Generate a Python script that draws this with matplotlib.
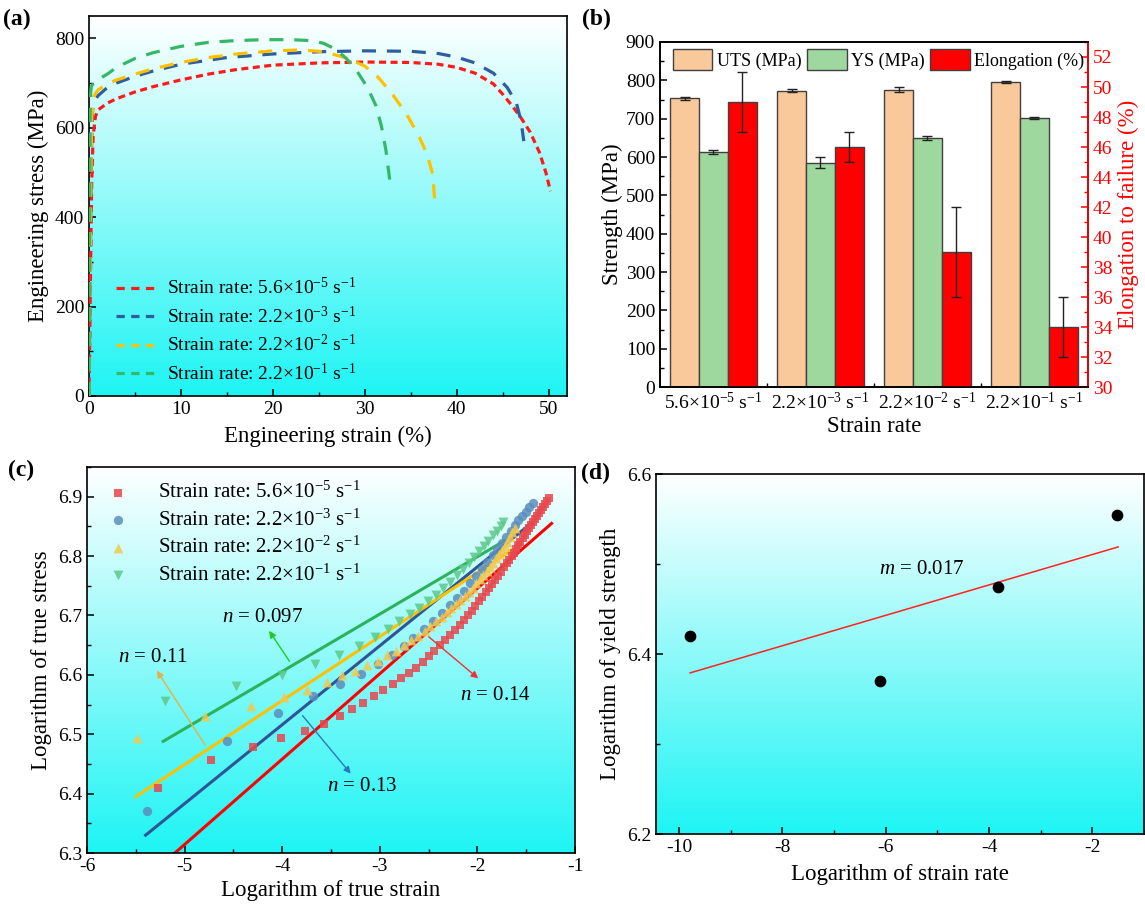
import numpy as np
import matplotlib
matplotlib.use("Agg")
import matplotlib.pyplot as plt
from matplotlib.colors import LinearSegmentedColormap
from matplotlib.lines import Line2D
from matplotlib.ticker import MultipleLocator, FormatStrFormatter

plt.rcParams['font.family'] = ['Liberation Serif', 'DejaVu Serif']
plt.rcParams['mathtext.fontset'] = 'custom'
plt.rcParams['mathtext.rm'] = 'Liberation Serif'
plt.rcParams['mathtext.it'] = 'Liberation Serif:italic'
plt.rcParams['axes.linewidth'] = 1.2
plt.rcParams['axes.unicode_minus'] = False

# ---- labels
rate_labels = [r'5.6$\times$10$^{-5}$ s$^{-1}$', r'2.2$\times$10$^{-3}$ s$^{-1}$',
               r'2.2$\times$10$^{-2}$ s$^{-1}$', r'2.2$\times$10$^{-1}$ s$^{-1}$']

# ---- (a) engineering stress-strain curves
a_red_x = [0, 0.1, 0.2, 0.3, 0.45, 0.7, 1, 2, 3, 5, 7, 10, 13, 16, 20, 25, 30, 35, 38, 40, 42, 44, 45, 46, 47, 48, 49, 49.7, 50.2]
a_red_y = [0, 150, 330, 480, 580, 625, 640, 655, 665, 680, 692, 707, 720, 730, 740, 745, 747, 746, 742, 735, 722, 698, 675, 650, 622, 590, 545, 500, 458]
a_blue_x = [0, 0.1, 0.2, 0.3, 0.4, 0.6, 1, 2, 3, 5, 7, 10, 15, 20, 25, 30, 35, 38, 40, 42, 44, 45.5, 46.5, 47.0, 47.3]
a_blue_y = [0, 200, 420, 580, 640, 660, 672, 690, 700, 715, 727, 742, 757, 765, 770, 772, 771, 766, 758, 745, 722, 690, 655, 615, 570]
a_yel_x = [0, 0.1, 0.2, 0.3, 0.5, 1, 2, 3, 5, 7, 10, 13, 16, 20, 23, 25, 27, 28.5, 30, 31.5, 33, 34.5, 35.8, 36.8, 37.4, 37.6]
a_yel_y = [0, 220, 450, 620, 670, 685, 698, 707, 720, 732, 746, 757, 765, 772, 774, 771, 762, 752, 738, 712, 675, 632, 585, 540, 495, 440]
a_grn_x = [0, 0.05, 0.1, 0.15, 0.25, 0.5, 1, 2, 3, 5, 7, 10, 13, 16, 19, 22, 24, 25.5, 26.8, 28, 29.2, 30.3, 31.2, 31.8, 32.3, 32.8]
a_grn_y = [0, 250, 500, 670, 692, 700, 708, 720, 735, 755, 768, 782, 791, 795, 797, 797, 795, 789, 776, 755, 725, 690, 650, 605, 550, 470]

# ---- (b) strength / elongation
uts = [753, 773, 776, 795]
uts_err = [4, 4, 6, 2]
ys = [614, 585, 650, 702]
ys_err = [5, 14, 5, 3]
elong = [49, 46, 39, 34]
elong_err = [2, 1, 3, 2]

# ---- (c) log true stress vs log true strain
c_red_x = [-5.27, -4.73, -4.30, -4.01, -3.77, -3.57, -3.41, -3.28, -3.17, -3.06, -2.97, -2.87, -2.78, -2.70,
           -2.63, -2.56, -2.50, -2.44, -2.38, -2.33, -2.28, -2.23, -2.18, -2.14, -2.10, -2.06, -2.02, -1.98,
           -1.95, -1.91, -1.88, -1.85, -1.82, -1.79, -1.76, -1.73, -1.70, -1.68, -1.65, -1.63, -1.60, -1.58,
           -1.56, -1.53, -1.51, -1.49, -1.47, -1.45, -1.43, -1.41, -1.39, -1.37, -1.35, -1.33, -1.31, -1.29, -1.27]
c_red_y = [6.410, 6.457, 6.478, 6.493, 6.506, 6.518, 6.531, 6.542, 6.552, 6.565, 6.574, 6.584, 6.594, 6.603,
           6.612, 6.622, 6.632, 6.641, 6.650, 6.658, 6.667, 6.676, 6.684, 6.692, 6.700, 6.708, 6.716, 6.724,
           6.731, 6.739, 6.746, 6.753, 6.760, 6.767, 6.774, 6.781, 6.788, 6.794, 6.800, 6.806, 6.812, 6.818,
           6.824, 6.830, 6.836, 6.842, 6.847, 6.852, 6.857, 6.862, 6.867, 6.872, 6.877, 6.882, 6.887, 6.892, 6.897]
c_blue_x = [-5.39, -4.57, -4.04, -3.685, -3.41, -3.195, -3.02, -2.876, -2.753, -2.656, -2.551, -2.453, -2.364,
            -2.283, -2.207, -2.137, -2.071, -2.010, -1.952, -1.897, -1.845, -1.796, -1.749, -1.704, -1.661,
            -1.619, -1.580, -1.542, -1.505, -1.470, -1.435]
c_blue_y = [6.370, 6.488, 6.536, 6.564, 6.584, 6.601, 6.619, 6.633, 6.648, 6.662, 6.677, 6.691, 6.704,
            6.717, 6.730, 6.742, 6.755, 6.767, 6.779, 6.790, 6.801, 6.812, 6.822, 6.832, 6.842,
            6.852, 6.860, 6.868, 6.875, 6.882, 6.889]
c_yel_x = [-5.484, -4.79, -4.32, -3.985, -3.743, -3.54, -3.39, -3.252, -3.130, -3.022, -2.924, -2.835, -2.754,
           -2.678, -2.608, -2.542, -2.481, -2.422, -2.368, -2.316, -2.266, -2.219, -2.174, -2.131, -2.090,
           -2.050, -2.012, -1.975, -1.940, -1.906, -1.873, -1.841, -1.810, -1.780, -1.750, -1.722, -1.695,
           -1.668, -1.641, -1.616]
c_yel_y = [6.493, 6.531, 6.548, 6.562, 6.574, 6.588, 6.600, 6.607, 6.616, 6.624, 6.633, 6.641, 6.650,
           6.658, 6.666, 6.674, 6.682, 6.690, 6.697, 6.705, 6.712, 6.719, 6.726, 6.733, 6.740,
           6.747, 6.754, 6.761, 6.768, 6.775, 6.782, 6.789, 6.796, 6.803, 6.810, 6.817, 6.824,
           6.832, 6.840, 6.848]
c_grn_x = [-5.20, -4.475, -4.0, -3.66, -3.415, -3.215, -3.05, -2.92, -2.80, -2.695, -2.596, -2.506, -2.424,
           -2.348, -2.277, -2.211, -2.149, -2.091, -2.036, -1.983, -1.934, -1.887, -1.841, -1.798, -1.757, -1.734]
c_grn_y = [6.556, 6.581, 6.600, 6.619, 6.633, 6.648, 6.663, 6.678, 6.691, 6.702, 6.713, 6.724, 6.735,
           6.746, 6.757, 6.768, 6.778, 6.788, 6.798, 6.808, 6.817, 6.826, 6.835, 6.843, 6.851, 6.857]
# fitted lines (end points)
fit_red = ([-5.10, -1.24], [6.30, 6.855])
fit_blue = ([-5.40, -1.45], [6.33, 6.855])
fit_yel = ([-5.50, -1.65], [6.395, 6.81])
fit_grn = ([-5.22, -1.72], [6.488, 6.826])

# ---- (d) log yield strength vs log strain rate
d_x = [-9.79, -6.12, -3.82, -1.52]
d_y = [6.420, 6.370, 6.475, 6.554]
d_fit_x = [-9.79, -1.50]
d_fit_y = [6.379, 6.519]

bg_cmap = LinearSegmentedColormap.from_list('bg', ['#ffffff', '#1ef4f4'])


def add_gradient(ax):
    # white at the top, cyan at the bottom
    grad = np.linspace(0, 1, 256).reshape(-1, 1)
    ax.imshow(grad, extent=[0, 1, 0, 1], origin='upper', transform=ax.transAxes,
              aspect='auto', cmap=bg_cmap, zorder=0, interpolation='bicubic')


def style_ticks(ax, size=14):
    ax.tick_params(which='both', direction='in', labelsize=size, top=False, right=False)
    ax.tick_params(which='major', length=5, width=1.1)
    ax.tick_params(which='minor', length=3, width=1.0)


fig = plt.figure(figsize=(11.45, 9.13), dpi=100)

# ================= (a)
ax1 = fig.add_axes([0.0777, 0.5663, 0.4175, 0.4162])
add_gradient(ax1)
a_colors = ['#ff1a1a', '#2f5d9e', '#ffc000', '#35b866']
ax1.plot(a_red_x, a_red_y, color=a_colors[0], lw=2.3, dashes=(2.2, 1.4), zorder=3)
ax1.plot(a_blue_x, a_blue_y, color=a_colors[1], lw=2.3, dashes=(4.4, 3.4), zorder=3)
ax1.plot(a_yel_x, a_yel_y, color=a_colors[2], lw=2.3, dashes=(4.4, 3.4), zorder=3)
ax1.plot(a_grn_x, a_grn_y, color=a_colors[3], lw=2.3, dashes=(4.4, 3.4), zorder=3)
ax1.set_xlim(0, 52)
ax1.set_ylim(0, 850)
ax1.xaxis.set_major_locator(MultipleLocator(10))
ax1.xaxis.set_minor_locator(MultipleLocator(5))
ax1.yaxis.set_major_locator(MultipleLocator(200))
ax1.yaxis.set_minor_locator(MultipleLocator(100))
style_ticks(ax1)
ax1.set_xlabel('Engineering strain (%)', fontsize=16.5, labelpad=6)
ax1.set_ylabel('Engineering stress (MPa)', fontsize=16.5, labelpad=4)
handles = [Line2D([0], [0], color=c, lw=2.3, dashes=(2.6, 2.0)) for c in a_colors]
ax1.legend(handles, ['Strain rate: ' + l for l in rate_labels], loc='lower left',
           bbox_to_anchor=(0.02, -0.015), frameon=False, fontsize=14, handlelength=2.0,
           labelspacing=0.38, handletextpad=0.6)

# ================= (b)
ax2 = fig.add_axes([0.5764, 0.5761, 0.3738, 0.3779])
xg = np.arange(len(uts))
w = 0.27
ekw = dict(ecolor='#222222', elinewidth=1.0, capsize=3.5, capthick=1.0)
ax2.bar(xg - w, uts, w, yerr=uts_err, color='#f9c89b', edgecolor='#404040', lw=1.0,
        error_kw=ekw, label='UTS (MPa)', zorder=2)
ax2.bar(xg, ys, w, yerr=ys_err, color='#9fd89f', edgecolor='#404040', lw=1.0,
        error_kw=ekw, label='YS (MPa)', zorder=2)
ax2.set_xlim(-0.5, 3.5)
ax2.set_ylim(0, 900)
ax2.yaxis.set_major_locator(MultipleLocator(100))
ax2.yaxis.set_minor_locator(MultipleLocator(50))
ax2.set_xticks(xg)
ax2.set_xticks([0.5, 1.5, 2.5], minor=True)
ax2.set_xticklabels(rate_labels)
style_ticks(ax2)
ax2.set_ylabel('Strength (MPa)', fontsize=16.5, labelpad=2)
ax2.set_xlabel('Strain rate', fontsize=16.5, labelpad=2)
ax2b = ax2.twinx()
ax2b.bar(xg + w, elong, w, yerr=elong_err, color='#ff0000', edgecolor='#404040', lw=1.0,
         error_kw=ekw, label='Elongation (%)', zorder=2)
ax2b.set_ylim(30, 53)
ax2b.yaxis.set_major_locator(MultipleLocator(2))
ax2b.yaxis.set_minor_locator(MultipleLocator(1))
ax2b.tick_params(which='both', direction='in', labelsize=14, colors='red')
ax2b.tick_params(which='major', length=5, width=1.1)
ax2b.tick_params(which='minor', length=3, width=1.0)
ax2b.spines['right'].set_color('red')
ax2b.set_ylabel('Elongation to failure (%)', fontsize=16.5, color='red', labelpad=4)
h1, l1 = ax2.get_legend_handles_labels()
h2, l2 = ax2b.get_legend_handles_labels()
ax2b.legend(h1 + h2, l1 + l2, loc='upper left', ncol=3, frameon=False, fontsize=13,
            handlelength=2.2, handleheight=1.4, columnspacing=0.3, handletextpad=0.25,
            bbox_to_anchor=(0.0, 1.015), borderaxespad=0.3)

# ================= (c)
ax3 = fig.add_axes([0.076, 0.0657, 0.4262, 0.4228])
add_gradient(ax3)
ax3.plot(*fit_red, color='#ff0000', lw=2.2, zorder=2)
ax3.plot(*fit_blue, color='#2f5597', lw=2.2, zorder=2)
ax3.plot(*fit_yel, color='#ffc000', lw=2.2, zorder=2)
ax3.plot(*fit_grn, color='#2db25c', lw=2.2, zorder=2)
ax3.scatter(c_red_x, c_red_y, marker='s', s=40, color='#e8474d', alpha=0.85, lw=0, zorder=3,
            label='Strain rate: ' + rate_labels[0])
ax3.scatter(c_blue_x, c_blue_y, marker='o', s=45, color='#5b8dbd', alpha=0.85, lw=0, zorder=3,
            label='Strain rate: ' + rate_labels[1])
ax3.scatter(c_yel_x, c_yel_y, marker='^', s=50, color='#f4c84c', alpha=0.85, lw=0, zorder=3,
            label='Strain rate: ' + rate_labels[2])
ax3.scatter(c_grn_x, c_grn_y, marker='v', s=50, color='#5cc98a', alpha=0.85, lw=0, zorder=3,
            label='Strain rate: ' + rate_labels[3])
ax3.set_xlim(-6, -1)
ax3.set_ylim(6.3, 6.95)
ax3.xaxis.set_major_locator(MultipleLocator(1))
ax3.xaxis.set_minor_locator(MultipleLocator(0.5))
ax3.yaxis.set_major_locator(MultipleLocator(0.1))
ax3.yaxis.set_minor_locator(MultipleLocator(0.05))
ax3.yaxis.set_major_formatter(FormatStrFormatter('%.1f'))
style_ticks(ax3)
ax3.set_xlabel('Logarithm of true strain', fontsize=16.5, labelpad=4)
ax3.set_ylabel('Logarithm of true stress', fontsize=16.5, labelpad=4)
ax3.legend(loc='upper left', bbox_to_anchor=(0.0, 1.01), frameon=False, fontsize=15,
           handlelength=1.2, handletextpad=1.3, labelspacing=0.3, scatterpoints=1)
ann = dict(fontsize=15)
ax3.annotate('', xy=(-4.15, 6.678), xytext=(-3.91, 6.619),
             arrowprops=dict(arrowstyle='-|>', color='#22cc22', lw=1.0, mutation_scale=10))
ax3.text(-4.2, 6.697, r'$n$ = 0.097', ha='center', va='center', **ann)
ax3.annotate('', xy=(-5.30, 6.611), xytext=(-4.775, 6.478),
             arrowprops=dict(arrowstyle='-|>', color='#e8b040', lw=1.0, mutation_scale=10))
ax3.text(-5.32, 6.63, r'$n$ = 0.11', ha='center', va='center', **ann)
ax3.annotate('', xy=(-3.28, 6.43), xytext=(-3.81, 6.535),
             arrowprops=dict(arrowstyle='-|>', color='#2a7ab8', lw=1.0, mutation_scale=10))
ax3.text(-3.18, 6.412, r'$n$ = 0.13', ha='center', va='center', **ann)
ax3.annotate('', xy=(-1.97, 6.591), xytext=(-2.52, 6.667),
             arrowprops=dict(arrowstyle='-|>', color='#ee3333', lw=1.0, mutation_scale=10))
ax3.text(-1.82, 6.566, r'$n$ = 0.14', ha='center', va='center', **ann)

# ================= (d)
ax4 = fig.add_axes([0.5729, 0.0865, 0.4262, 0.3943])
add_gradient(ax4)
ax4.plot(d_fit_x, d_fit_y, color='#ff2020', lw=1.1, zorder=2)
ax4.scatter(d_x, d_y, s=55, color='black', zorder=3)
ax4.set_xlim(-10.45, -1.0)
ax4.set_ylim(6.2, 6.6)
ax4.xaxis.set_major_locator(MultipleLocator(2))
ax4.xaxis.set_minor_locator(MultipleLocator(1))
ax4.yaxis.set_major_locator(MultipleLocator(0.2))
ax4.yaxis.set_minor_locator(MultipleLocator(0.1))
ax4.yaxis.set_major_formatter(FormatStrFormatter('%.1f'))
style_ticks(ax4)
ax4.set_xlabel('Logarithm of strain rate', fontsize=16.5, labelpad=6)
ax4.set_ylabel('Logarithm of yield strength', fontsize=16.5, labelpad=4)
ax4.text(-5.3, 6.494, r'$m$ = 0.017', ha='center', va='center', fontsize=15)

# panel labels
for lbl, x, y in [('(a)', 0.003, 0.99), ('(b)', 0.508, 0.99), ('(c)', 0.007, 0.496), ('(d)', 0.507, 0.493)]:
    fig.text(x, y, lbl, fontsize=17, fontweight='bold', ha='left', va='top')

fig.savefig('out.png', dpi=100)
